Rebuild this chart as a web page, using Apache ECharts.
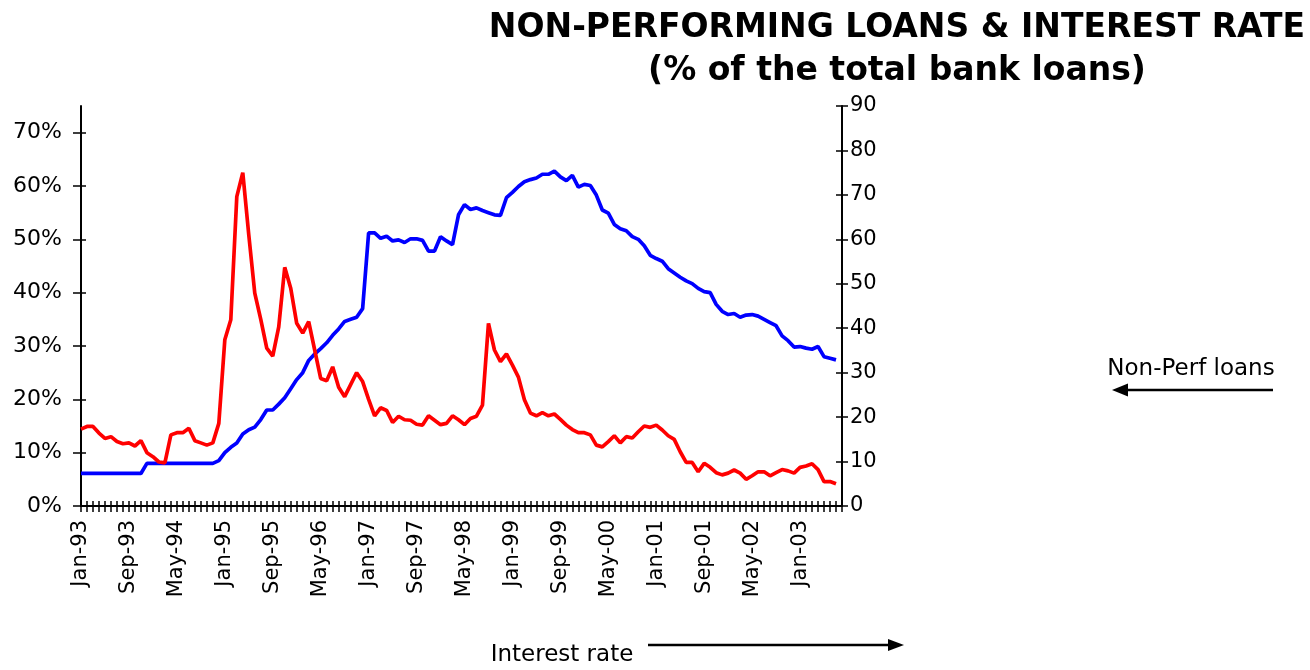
<!DOCTYPE html>
<html>
<head>
<meta charset="utf-8">
<script src="https://cdn.jsdelivr.net/npm/echarts@6/dist/echarts.min.js"></script>
<style>
html,body{margin:0;padding:0;background:#fff;}
#chart{width:1310px;height:670px;}
</style>
</head>
<body>
<div id="chart"></div>
<script>
// Month categories Jan-93 .. Aug-03 (last one left empty, axis end)
const monthNames = ['Jan','Feb','Mar','Apr','May','Jun','Jul','Aug','Sep','Oct','Nov','Dec'];
const months = [];
for (let k = 0; k < 128; k++) {
  const yr = (93 + Math.floor(k / 12)) % 100;
  months.push(monthNames[k % 12] + '-' + String(yr).padStart(2, '0'));
}

// Non-performing loans, % of total bank loans (left axis), Jan-93 .. Jul-03
const nplLoans = [
  6.1, 6.1, 6.1, 6.1, 6.1, 6.1, 6.1, 6.1, 6.1, 6.1, 6.1, 8.0,
  8.0, 8.0, 8.0, 8.0, 8.0, 8.0, 8.0, 8.0, 8.0, 8.0, 8.0, 8.5,
  10.0, 11.0, 11.8, 13.5, 14.3, 14.8, 16.2, 18.0, 18.0, 19.1, 20.3, 22.0,
  23.7, 25.0, 27.3, 28.5, 29.5, 30.6, 32.0, 33.2, 34.6, 35.0, 35.4, 37.0,
  51.2, 51.2, 50.2, 50.6, 49.7, 49.9, 49.4, 50.1, 50.1, 49.8, 47.8, 47.8,
  50.5, 49.7, 49.0, 54.6, 56.5, 55.6, 55.9, 55.4, 55.0, 54.6, 54.5, 57.8,
  58.8, 59.9, 60.8, 61.2, 61.5, 62.2, 62.2, 62.8, 61.7, 61.0, 62.0, 59.8,
  60.3, 60.1, 58.3, 55.5, 54.9, 52.8, 52.0, 51.6, 50.5, 50.0, 48.8, 47.0,
  46.4, 45.9, 44.5, 43.7, 42.9, 42.2, 41.7, 40.8, 40.2, 40.0, 37.8, 36.5,
  35.9, 36.1, 35.4, 35.8, 35.9, 35.6, 35.0, 34.4, 33.8, 31.9, 31.0, 29.8,
  29.9, 29.6, 29.4, 29.9, 28.0, 27.7, 27.4
];

// Interest rate (right axis), Jan-93 .. Jul-03
const interestRate = [
  17.3, 17.9, 17.9, 16.4, 15.2, 15.6, 14.5, 14.0, 14.2, 13.5, 14.7, 12.0,
  11.1, 9.9, 9.7, 16.0, 16.5, 16.5, 17.5, 14.7, 14.2, 13.7, 14.2, 18.6,
  37.4, 41.9, 69.6, 75.0, 61.0, 47.9, 42.0, 35.5, 33.7, 40.3, 53.7, 49.0,
  41.1, 38.9, 41.5, 35.1, 28.7, 28.2, 31.3, 26.7, 24.6, 27.3, 30.0, 28.0,
  24.0, 20.3, 22.1, 21.5, 18.8, 20.2, 19.4, 19.3, 18.4, 18.2, 20.3, 19.3,
  18.3, 18.6, 20.3, 19.4, 18.3, 19.7, 20.2, 22.7, 41.1, 35.1, 32.5, 34.2,
  31.7, 29.0, 23.9, 20.9, 20.3, 21.0, 20.3, 20.7, 19.5, 18.2, 17.2, 16.5,
  16.5, 16.0, 13.7, 13.3, 14.5, 15.8, 14.2, 15.6, 15.3, 16.7, 18.0, 17.7,
  18.2, 17.1, 15.8, 15.0, 12.2, 9.8, 9.8, 7.7, 9.6, 8.7, 7.5, 7.0,
  7.4, 8.1, 7.4, 6.0, 6.8, 7.7, 7.7, 6.8, 7.5, 8.2, 7.9, 7.4,
  8.7, 9.0, 9.5, 8.2, 5.5, 5.5, 5.0
];

const leftTicks = [0, 10, 20, 30, 40, 50, 60, 70];
const rightTicks = [0, 10, 20, 30, 40, 50, 60, 70, 80, 90];

const FONT = "'DejaVu Sans', 'Liberation Sans', Arial, sans-serif";
const BLACK = '#000000';

const chart = echarts.init(document.getElementById('chart'), null, {renderer: 'canvas'});

const xBase = {
  type: 'category',
  data: months,
  boundaryGap: false,
  position: 'bottom',
  gridIndex: 0
};

const option = {
  animation: false,
  backgroundColor: '#ffffff',
  title: {
    text: 'NON-PERFORMING LOANS & INTEREST RATE\n(% of the total bank loans)',
    left: 892,
    top: 2,
    textAlign: 'center',
    textStyle: {
      fontFamily: FONT,
      fontWeight: 'bold',
      fontSize: 33,
      lineHeight: 43,
      color: BLACK
    }
  },
  grid: {left: 81, right: 468, top: 106, bottom: 164, containLabel: false},
  xAxis: [
    Object.assign({}, xBase, {
      axisLine: {show: true, lineStyle: {color: BLACK, width: 2}},
      axisTick: {show: true, interval: 0, length: 6, inside: false, lineStyle: {color: BLACK, width: 1.5}},
      axisLabel: {
        show: true, interval: 7, rotate: 90, margin: 14,
        fontFamily: FONT, fontSize: 21, color: BLACK
      },
      splitLine: {show: false}
    }),
    Object.assign({}, xBase, {
      axisLine: {show: false},
      axisTick: {show: true, interval: 0, length: 5, inside: true, lineStyle: {color: BLACK, width: 1.5}},
      axisLabel: {show: false},
      splitLine: {show: false}
    })
  ],
  yAxis: [
    {
      type: 'value', position: 'left', min: 0, max: 75,
      axisLine: {show: true, lineStyle: {color: BLACK, width: 2}},
      axisTick: {show: true, length: 8, inside: false, customValues: leftTicks, lineStyle: {color: BLACK, width: 1.5}},
      axisLabel: {
        show: true, customValues: leftTicks, formatter: '{value}%', margin: 19,
        fontFamily: FONT, fontSize: 22, color: BLACK
      },
      splitLine: {show: false}
    },
    {
      type: 'value', position: 'right', min: 0, max: 90, interval: 10,
      axisLine: {show: true, lineStyle: {color: BLACK, width: 2}},
      axisTick: {show: true, length: 6, inside: false, customValues: rightTicks, lineStyle: {color: BLACK, width: 1.5}},
      axisLabel: {
        show: true, customValues: rightTicks, margin: 8,
        fontFamily: FONT, fontSize: 21, color: BLACK
      },
      splitLine: {show: false}
    },
    {
      type: 'value', position: 'left', min: 0, max: 75,
      axisLine: {show: false},
      axisTick: {show: true, length: 5, inside: true, customValues: leftTicks, lineStyle: {color: BLACK, width: 1.5}},
      axisLabel: {show: false},
      splitLine: {show: false}
    },
    {
      type: 'value', position: 'right', min: 0, max: 90, interval: 10,
      axisLine: {show: false},
      axisTick: {show: true, length: 6, inside: true, customValues: rightTicks, lineStyle: {color: BLACK, width: 1.5}},
      axisLabel: {show: false},
      splitLine: {show: false}
    }
  ],
  series: [
    {
      name: 'Non-Perf loans',
      type: 'line',
      xAxisIndex: 0,
      yAxisIndex: 0,
      data: nplLoans,
      showSymbol: false,
      symbol: 'none',
      lineStyle: {color: '#0000FF', width: 3.7},
      itemStyle: {color: '#0000FF'},
      z: 3
    },
    {
      name: 'Interest rate',
      type: 'line',
      xAxisIndex: 0,
      yAxisIndex: 1,
      data: interestRate,
      showSymbol: false,
      symbol: 'none',
      lineStyle: {color: '#FF0000', width: 3.7},
      itemStyle: {color: '#FF0000'},
      z: 4
    }
  ],
  graphic: [
    {
      type: 'text', x: 1191, y: 369,
      style: {text: 'Non-Perf loans', font: "23px " + FONT, fill: BLACK, textAlign: 'center', textVerticalAlign: 'middle'}
    },
    {type: 'line', shape: {x1: 1273, y1: 390, x2: 1124, y2: 390}, style: {stroke: BLACK, lineWidth: 2.5}},
    {type: 'polygon', shape: {points: [[1112, 390], [1128, 383.5], [1128, 396.5]]}, style: {fill: BLACK}},
    {
      type: 'text', x: 562, y: 655,
      style: {text: 'Interest rate', font: "23px " + FONT, fill: BLACK, textAlign: 'center', textVerticalAlign: 'middle'}
    },
    {type: 'line', shape: {x1: 648, y1: 645, x2: 892, y2: 645}, style: {stroke: BLACK, lineWidth: 2.5}},
    {type: 'polygon', shape: {points: [[904, 645], [888, 639], [888, 651]]}, style: {fill: BLACK}}
  ]
};

chart.setOption(option);
</script>
</body>
</html>
